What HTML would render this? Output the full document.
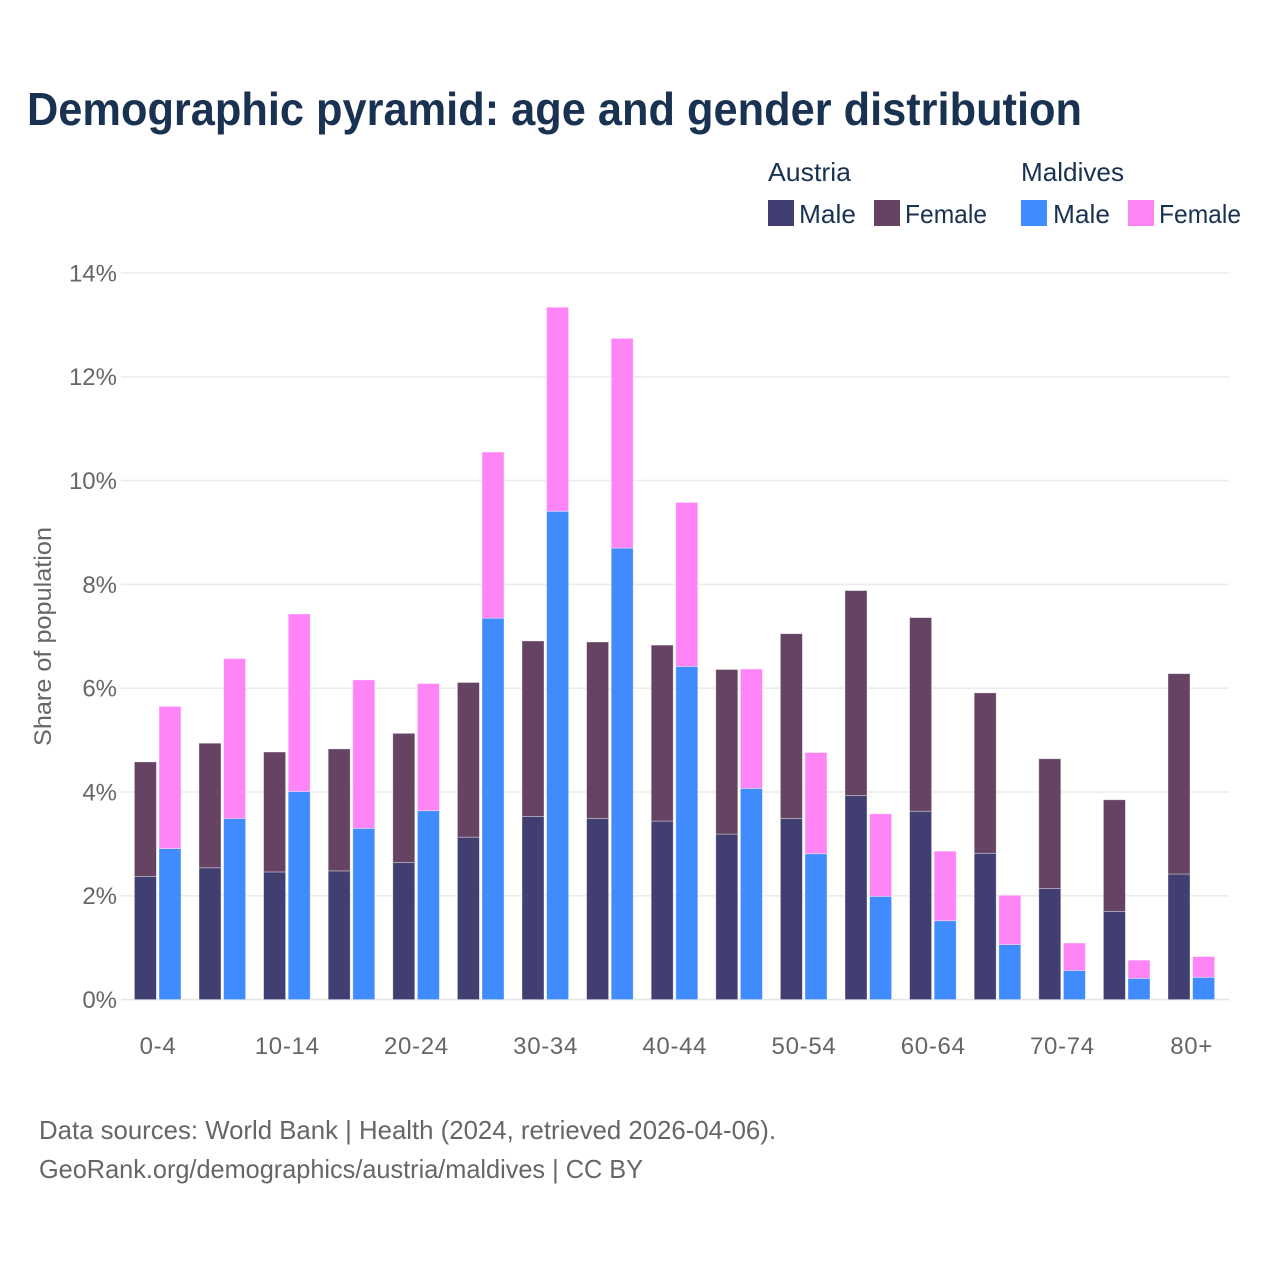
<!DOCTYPE html>
<html lang="en">
<head>
<meta charset="utf-8">
<title>Demographic pyramid: age and gender distribution</title>
<style>
  html, body { margin: 0; padding: 0; background: #fff; }
  svg { display: block; font-family: "Liberation Sans", Arial, sans-serif; }
</style>
</head>
<body>
<svg id="chart" xmlns="http://www.w3.org/2000/svg" width="1280" height="1280" viewBox="0 0 1280 1280">
  <rect width="1280" height="1280" fill="#ffffff"/>
  <text x="27" y="125" font-size="46" font-weight="700" fill="#1a3252" textLength="1055" lengthAdjust="spacingAndGlyphs">Demographic pyramid: age and gender distribution</text>

  <g font-size="26" fill="#1a3252">
    <text x="768" y="181" textLength="83" lengthAdjust="spacingAndGlyphs">Austria</text>
    <text x="1021" y="181" textLength="103" lengthAdjust="spacingAndGlyphs">Maldives</text>
    <g>
      <rect x="768" y="200" width="26" height="26" fill="#413f71"/>
      <text x="799" y="223" textLength="57" lengthAdjust="spacingAndGlyphs">Male</text>
    </g>
    <g>
      <rect x="874" y="200" width="26" height="26" fill="#664263"/>
      <text x="905" y="223" textLength="82" lengthAdjust="spacingAndGlyphs">Female</text>
    </g>
    <g>
      <rect x="1021" y="200" width="26" height="26" fill="#408cff"/>
      <text x="1053" y="223" textLength="57" lengthAdjust="spacingAndGlyphs">Male</text>
    </g>
    <g>
      <rect x="1128" y="200" width="26" height="26" fill="#ff85f7"/>
      <text x="1159" y="223" textLength="82" lengthAdjust="spacingAndGlyphs">Female</text>
    </g>
  </g>

  <g id="grid"></g>
  <g id="yticks"></g>
  <g id="bars"></g>
  <g id="xticks"></g>

  <text transform="translate(51 636.5) rotate(-90)" text-anchor="middle" font-size="24" fill="#666666" textLength="219" lengthAdjust="spacingAndGlyphs">Share of population</text>

  <text x="39" y="1139" font-size="26" fill="#666666" textLength="737" lengthAdjust="spacingAndGlyphs">Data sources: World Bank | Health (2024, retrieved 2026-04-06).</text>
  <text x="39" y="1178" font-size="26" fill="#666666" textLength="604" lengthAdjust="spacingAndGlyphs">GeoRank.org/demographics/austria/maldives | CC BY</text>
</svg>
<script>
const categories = ['0-4','5-9','10-14','15-19','20-24','25-29','30-34','35-39','40-44','45-49','50-54','55-59','60-64','65-69','70-74','75-79','80+'];
const austriaMale = [2.37,2.54,2.46,2.48,2.64,3.13,3.53,3.49,3.44,3.19,3.49,3.93,3.63,2.82,2.14,1.70,2.42];
const austriaFemale = [2.21,2.40,2.31,2.35,2.49,2.98,3.38,3.40,3.39,3.17,3.56,3.95,3.73,3.09,2.50,2.15,3.86];
const maldivesMale = [2.91,3.49,4.01,3.30,3.64,7.35,9.41,8.70,6.42,4.07,2.81,1.99,1.52,1.06,0.56,0.41,0.43];
const maldivesFemale = [2.74,3.08,3.42,2.86,2.45,3.20,3.93,4.04,3.16,2.30,1.95,1.59,1.34,0.95,0.53,0.35,0.40];
const yTickValues = [0,2,4,6,8,10,12,14];

const NS = 'http://www.w3.org/2000/svg';
const plot = { left: 125.7, step: 64.6, baseY: 999.6, pxPerUnit: 51.9, gridLeft: 121, gridRight: 1229, barW: 22 };
const yScale = v => plot.baseY - v * plot.pxPerUnit;
const xCenter = i => plot.left + plot.step * (i + 0.5);

function make(tag, attrs, parent, text) {
  const el = document.createElementNS(NS, tag);
  for (const k in attrs) el.setAttribute(k, attrs[k]);
  if (text !== undefined) el.textContent = text;
  parent.appendChild(el);
  return el;
}

const gridG = document.getElementById('grid');
const yTicksG = document.getElementById('yticks');
const xTicksG = document.getElementById('xticks');
const barsG = document.getElementById('bars');

yTickValues.forEach(v => {
  const line = make('line', { x1: plot.gridLeft, x2: plot.gridRight, y1: yScale(v), y2: yScale(v), stroke: v === 0 ? '#e6e6e6' : '#ececec', 'stroke-width': 1.6 }, gridG);
  
  
  const label = make('text', { x: 117, y: yScale(v) + 8.4, 'text-anchor': 'end', 'font-size': 24, fill: '#666666' }, yTicksG, v + '%');
  
  
});

categories.forEach((c, i) => {
  if (i % 2 === 0) {
    const label = make('text', { x: xCenter(i), y: 1054, 'text-anchor': 'middle', 'font-size': 24, 'letter-spacing': 0.7, fill: '#666666' }, xTicksG, c);
    
    
  }
  const ax = xCenter(i) - 23.6;
  const mx = xCenter(i) + 1;
  const stroke = { stroke: 'rgba(255,255,255,0.45)', 'stroke-width': 0.8 };

  const am = make('rect', Object.assign({ x: ax, y: yScale(austriaMale[i]), width: plot.barW, height: plot.baseY - yScale(austriaMale[i]), fill: '#413f71' }, stroke), barsG);
  
  

  const afTotal = austriaMale[i] + austriaFemale[i];
  const af = make('rect', Object.assign({ x: ax, y: yScale(afTotal), width: plot.barW, height: yScale(austriaMale[i]) - yScale(afTotal), fill: '#664263' }, stroke), barsG);
  
  

  const mm = make('rect', Object.assign({ x: mx, y: yScale(maldivesMale[i]), width: plot.barW, height: plot.baseY - yScale(maldivesMale[i]), fill: '#408cff' }, stroke), barsG);
  
  

  const mfTotal = maldivesMale[i] + maldivesFemale[i];
  const mf = make('rect', Object.assign({ x: mx, y: yScale(mfTotal), width: plot.barW, height: yScale(maldivesMale[i]) - yScale(mfTotal), fill: '#ff85f7' }, stroke), barsG);
  
  
});
</script>
</body>
</html>
